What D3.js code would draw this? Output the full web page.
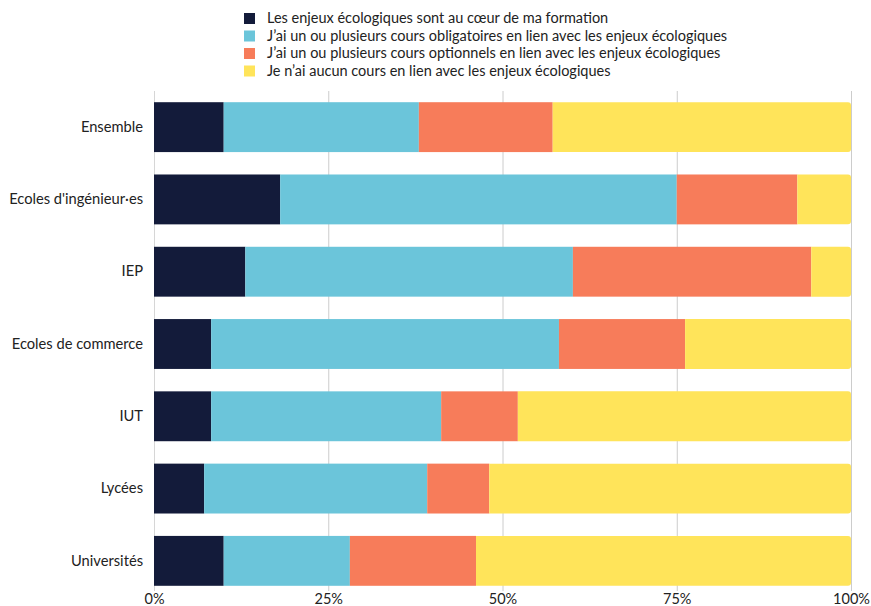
<!DOCTYPE html>
<html>
<head>
<meta charset="utf-8">
<script src="https://cdn.jsdelivr.net/npm/d3@7"></script>
<style>
  body { margin: 0; background: #fff; }
  svg { display: block; font-family: Lato, "Noto Sans", sans-serif; }
</style>
</head>
<body>
<svg id="chart" width="871" height="606"></svg>
<script>
// Categories (top to bottom)
const categories = ["Ensemble", "Ecoles d'ingénieur·es", "IEP", "Ecoles de commerce", "IUT", "Lycées", "Universités"];

// Series labels and colours
const seriesNames = [
  "Les enjeux écologiques sont au cœur de ma formation",
  "J’ai un ou plusieurs cours obligatoires en lien avec les enjeux écologiques",
  "J’ai un ou plusieurs cours optionnels en lien avec les enjeux écologiques",
  "Je n’ai aucun cours en lien avec les enjeux écologiques"
];
const seriesColors = ["#131b3a", "#6bc5da", "#f77c5a", "#ffe45a"];

// Shares (%) per category, in category order
const coeur       = [10.0, 18.1, 13.1,  8.2,  8.2,  7.2, 10.0];
const obligatoire = [28.0, 56.9, 47.0, 49.9, 33.0, 32.0, 18.1];
const optionnel   = [19.2, 17.3, 34.2, 18.1, 11.0,  8.9, 18.1];
const aucun       = [42.8,  7.7,  5.7, 23.8, 47.8, 51.9, 53.8];

// Axis ticks
const tickValues = [0, 25, 50, 75, 100];
const tickLabels = ["0%", "25%", "50%", "75%", "100%"];

const series = [coeur, obligatoire, optionnel, aucun];
const rows = categories.map((c, i) => {
  const r = { category: c };
  series.forEach((s, k) => { r["s" + k] = s[i]; });
  return r;
});
const keys = series.map((_, k) => "s" + k);
const stacked = d3.stack().keys(keys)(rows);

const svg = d3.select("#chart");
const x = d3.scaleLinear().domain([0, 100]).range([154, 851]);
const y = d3.scaleBand().domain(categories).range([91, 597]).paddingInner(0.31).paddingOuter(0.155);

// Gridlines
svg.append("g")
  .selectAll("line")
  .data(tickValues)
  .join("line")
  .attr("x1", d => x(d) + 0.5)
  .attr("x2", d => x(d) + 0.5)
  .attr("y1", 91)
  .attr("y2", 591)
  .attr("stroke", d => d === 0 ? "#d6d6d6" : "#cccccc")
  .attr("stroke-width", 1);

// Bars
const layer = svg.append("g")
  .selectAll("g")
  .data(stacked)
  .join("g")
  .attr("fill", (d, i) => seriesColors[i]);

layer.each(function(s, k) {
  const g = d3.select(this);
  s.forEach((d, i) => {
    const x0 = x(d[0]), x1 = x(d[1]), yy = y(d.data.category), h = y.bandwidth();
    if (k === keys.length - 1) {
      // last segment: rounded right end
      const r = 3;
      const path = d3.path();
      path.moveTo(x0, yy);
      path.lineTo(x1 - r, yy);
      path.arcTo(x1, yy, x1, yy + r, r);
      path.lineTo(x1, yy + h - r);
      path.arcTo(x1, yy + h, x1 - r, yy + h, r);
      path.lineTo(x0, yy + h);
      path.closePath();
      g.append("path").attr("d", path.toString());
    } else {
      g.append("rect")
        .attr("x", x0)
        .attr("y", yy)
        .attr("width", x1 - x0)
        .attr("height", h);
    }
  });
});

// Category labels
const yAxis = d3.axisLeft(y).tickSize(0).tickPadding(11);
const yg = svg.append("g").attr("transform", "translate(154,0)").call(yAxis);
yg.select(".domain").remove();
yg.selectAll("text").attr("font-size", 14.7).attr("fill", "#222").attr("font-family", "Lato, 'Noto Sans', sans-serif");

// Percent axis labels
const xAxis = d3.axisBottom(x).tickValues(tickValues).tickFormat((d, i) => tickLabels[i]).tickSize(0).tickPadding(0);
const xg = svg.append("g").attr("transform", "translate(0,594)").call(xAxis);
xg.select(".domain").remove();
xg.selectAll("text").attr("font-size", 14.5).attr("fill", "#222").attr("font-family", "Lato, 'Noto Sans', sans-serif");

// Legend
const legend = svg.append("g").attr("transform", "translate(244,12)");
const item = legend.selectAll("g")
  .data(seriesNames)
  .join("g")
  .attr("transform", (d, i) => `translate(0,${i * 17.5})`);
item.append("rect").attr("width", 11).attr("height", 11).attr("y", 1).attr("fill", (d, i) => seriesColors[i]);
item.append("text")
  .attr("x", 23)
  .attr("y", 11)
  .attr("font-size", 14.5)
  .attr("fill", "#222")
  .text(d => d);
</script>
</body>
</html>
